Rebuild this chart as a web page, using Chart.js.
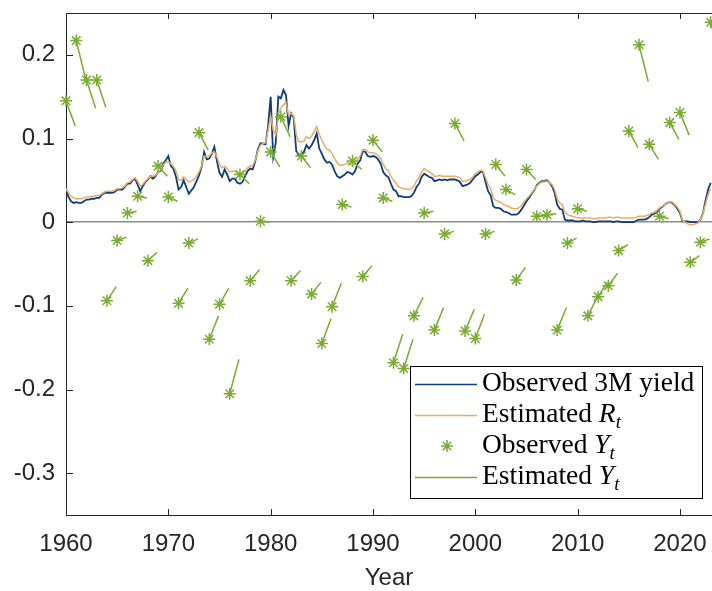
<!DOCTYPE html>
<html>
<head>
<meta charset="utf-8">
<script src="https://cdn.jsdelivr.net/npm/chart.js@4.4.1/dist/chart.umd.min.js"></script>
<style>
html, body { margin: 0; padding: 0; background: #fff; }
#wrap { width: 712px; height: 591px; }
</style>
</head>
<body>
<div id="wrap"><canvas id="c" width="712" height="591"></canvas></div>
<script>
// quarterly series start at 1960 Q1
var quarterStart = 1960;

var yield3m = [
	.039,.030,.025,.023, .024,.023,.023,.025, .027,.027,.028,.028, .029,.029,.033,.035,
	.035,.035,.035,.036, .039,.039,.039,.042, .046,.046,.050,.052, .045,.037,.043,.048,
	.051,.055,.052,.055, .060,.061,.070,.074, .079,.067,.064,.054, .039,.042,.050,.042,
	.034,.038,.042,.049, .056,.066,.084,.075, .076,.082,.090,.073, .059,.054,.063,.057,
	.049,.052,.052,.047, .046,.048,.055,.061, .064,.063,.073,.087, .094,.094,.093,.115,
	.150,.078,.095,.150, .148,.158,.152,.115, .130,.125,.085,.080, .081,.084,.092,.088,
	.092,.098,.106,.088, .082,.075,.071,.072, .069,.061,.055,.053, .055,.057,.060,.059,
	.057,.061,.070,.074, .085,.084,.079,.078, .079,.078,.075,.070, .060,.056,.054,.046,
	.039,.037,.031,.031, .030,.030,.030,.031, .035,.042,.046,.054, .058,.056,.054,.053,
	.049,.050,.051,.050, .051,.050,.051,.051, .051,.050,.048,.043, .044,.045,.047,.051,
	.055,.057,.060,.060, .048,.037,.032,.019, .017,.017,.016,.013, .012,.011,.009,.009,
	.009,.011,.015,.020, .025,.029,.034,.038, .044,.047,.049,.049, .050,.047,.043,.035,
	.021,.016,.015,.003, .002,.002,.002,.001, .001,.001,.002,.001, .001,.001,.000,.000,
	.001,.001,.001,.001, .001,.001,.000,.001, .001,.000,.000,.000, .000,.000,.000,.002,
	.003,.003,.003,.004, .006,.009,.010,.012, .016,.018,.021,.023, .024,.023,.020,.016,
	.011,.001,.001,.001, .000,.000,.000,.000, .003,.011,.026,.039, .047
];

var estR = [
	.040,.035,.031,.029, .028,.028,.028,.029, .030,.030,.031,.031, .032,.032,.034,.036,
	.037,.037,.037,.038, .040,.040,.041,.043, .047,.048,.051,.053, .049,.043,.045,.049,
	.052,.055,.055,.056, .060,.062,.068,.072, .072,.070,.067,.061, .051,.050,.054,.051,
	.048,.049,.051,.055, .060,.067,.079,.078, .079,.083,.084,.078, .069,.065,.067,.064,
	.060,.061,.061,.058, .057,.058,.061,.065, .067,.068,.074,.085, .092,.094,.095,.110,
	.127,.110,.104,.128, .137,.140,.143,.128, .130,.127,.105,.096, .096,.097,.102,.100,
	.103,.108,.114,.105, .098,.092,.087,.086, .082,.076,.071,.068, .068,.069,.071,.070,
	.068,.070,.076,.079, .087,.087,.084,.083, .083,.082,.080,.076, .069,.064,.061,.055,
	.050,.047,.042,.041, .040,.040,.039,.040, .043,.049,.053,.060, .064,.062,.060,.058,
	.055,.055,.056,.055, .055,.055,.055,.055, .055,.054,.053,.049, .049,.050,.051,.054,
	.058,.060,.062,.061, .053,.045,.040,.029, .026,.025,.024,.021, .020,.019,.017,.016,
	.016,.017,.020,.024, .028,.031,.035,.039, .043,.046,.048,.048, .049,.047,.045,.039,
	.028,.023,.021,.012, .009,.008,.007,.006, .005,.005,.005,.005, .005,.005,.004,.004,
	.005,.005,.005,.005, .006,.006,.005,.006, .006,.005,.005,.005, .005,.005,.005,.006,
	.007,.007,.007,.008, .009,.011,.012,.014, .017,.019,.021,.023, .024,.024,.021,.018,
	.013,.002,.000,-.002, -.003,-.003,-.002,-.001, .003,.010,.022,.033, .040
];

var years = [1960,1961,1962,1963,1964,1965,1966,1967,1968,1969,
	1970,1971,1972,1973,1974,1975,1976,1977,1978,1979,
	1980,1981,1982,1983,1984,1985,1986,1987,1988,1989,
	1990,1991,1992,1993,1994,1995,1996,1997,1998,1999,
	2000,2001,2002,2003,2004,2005,2006,2007,2008,2009,
	2010,2011,2012,2013,2014,2015,2016,2017,2018,2019,
	2020,2021,2022,2023];

var obsY = [
	.145,.217,.170,.170,-.094,-.022,.011,.031,-.046,.067,
	.030,-.097,-.025,.107,-.140,-.098,-.205,.057,-.070,.001,
	.084,.126,-.070,.079,-.086,-.145,-.101,.021,.073,-.065,
	.098,.029,-.168,-.175,-.112,.011,-.129,-.014,.118,-.130,
	-.139,-.014,.069,.039,-.069,.063,.007,.009,-.129,-.025,
	.016,-.112,-.089,-.076,-.034,.109,.212,.093,.007,.119,
	.131,-.048,-.024,.239
];

// end value of each year's estimated segment
var estYEnd = [
	.115,.172,.136,.137,-.077,-.018,.013,.029,-.036,.055,
	.025,-.079,-.020,.086,-.112,-.079,-.164,.046,-.057,.000,
	.066,.102,-.058,.065,-.072,-.115,-.073,.018,.063,-.052,
	.084,.025,-.134,-.140,-.090,.013,-.102,-.011,.097,-.104,
	-.110,-.011,.055,.033,-.054,.051,.008,.010,-.102,-.019,
	.013,-.090,-.072,-.061,-.027,.089,.168,.075,.004,.099,
	.104,-.040,-.020,.200
];

var xTicks = [1960, 1970, 1980, 1990, 2000, 2010, 2020];
var yTicks = [-0.3, -0.2, -0.1, 0, 0.1, 0.2];

var BLUE = '#0f3d7c', ORANGE = '#e6ad67', GREEN = '#77ac30', AXIS = '#262626';

function quarterly(arr) {
	return arr.map(function (v, i) { return { x: quarterStart + i / 4, y: v }; });
}

var segPts = [];
years.forEach(function (yr, i) {
	segPts.push({ x: yr, y: obsY[i] }, { x: yr + 0.9, y: estYEnd[i] }, { x: yr + 0.9, y: null });
});
var obsPts = years.map(function (yr, i) { return { x: yr, y: obsY[i] }; });

function labelRuns(label) {
	var m = /^(.*\s)(\w)_(\w)$/.exec(label);
	if (!m) return [{ t: label, k: 'n' }];
	return [{ t: m[1], k: 'n' }, { t: m[2], k: 'i' }, { t: m[3], k: 's' }];
}

var frame = {
	id: 'frame',
	afterDraw: function (chart) {
		var ctx = chart.ctx, a = chart.chartArea, xs = chart.scales.x, ys = chart.scales.y;
		ctx.save();
		ctx.strokeStyle = AXIS;
		ctx.lineWidth = 1;
		ctx.beginPath();
		ctx.moveTo(a.left, a.top + 0.5);
		ctx.lineTo(a.right, a.top + 0.5);
		xs.ticks.forEach(function (t) {
			var px = Math.round(xs.getPixelForValue(t.value)) + 0.5;
			ctx.moveTo(px, a.bottom); ctx.lineTo(px, a.bottom - 6);
			ctx.moveTo(px, a.top); ctx.lineTo(px, a.top + 6);
		});
		ys.ticks.forEach(function (t) {
			var py = Math.round(ys.getPixelForValue(t.value)) + 0.5;
			ctx.moveTo(a.left, py); ctx.lineTo(a.left + 7, py);
		});
		ctx.stroke();

		// legend box
		var w = 292, h = 132;
		var bx = a.right - 10 - w, by = a.bottom - 17 - h;
		ctx.fillStyle = '#fff';
		ctx.fillRect(bx, by, w, h);
		ctx.strokeStyle = '#000';
		ctx.strokeRect(bx + 0.5, by + 0.5, w, h);
		var rows = [18, 49, 80, 111];
		var order = [3, 2, 0, 1];
		order.forEach(function (di, r) {
			var ds = chart.data.datasets[di];
			var ry = by + rows[r];
			if (ds.showLine === false) {
				var cx = bx + 37, R = 6;
				ctx.strokeStyle = ds.pointBorderColor;
				ctx.lineWidth = 1.5;
				ctx.beginPath();
				for (var k = 0; k < 4; k++) {
					var ang = k * Math.PI / 4;
					ctx.moveTo(cx - R * Math.cos(ang), ry - R * Math.sin(ang));
					ctx.lineTo(cx + R * Math.cos(ang), ry + R * Math.sin(ang));
				}
				ctx.stroke();
			} else {
				ctx.strokeStyle = ds.borderColor;
				ctx.lineWidth = 1.5;
				ctx.beginPath();
				ctx.moveTo(bx + 5, ry + 0.5);
				ctx.lineTo(bx + 67, ry + 0.5);
				ctx.stroke();
			}
			var tx = bx + 72, base = ry + 7;
			ctx.fillStyle = '#000';
			ctx.textBaseline = 'alphabetic';
			ctx.textAlign = 'left';
			labelRuns(ds.label).forEach(function (run) {
				if (run.k === 'n') ctx.font = '27.5px "Liberation Serif"';
				else if (run.k === 'i') ctx.font = 'italic 27.5px "Liberation Serif"';
				else ctx.font = 'italic 19px "Liberation Serif"';
				ctx.fillText(run.t, tx, run.k === 's' ? base + 6 : base);
				tx += ctx.measureText(run.t).width;
			});
		});
		ctx.restore();
	}
};

new Chart(document.getElementById('c'), {
	type: 'line',
	data: {
		datasets: [
			{
				label: 'Observed Y_t',
				data: obsPts,
				showLine: false,
				pointStyle: 'star',
				pointRadius: 6,
				pointBorderWidth: 1.5,
				pointBorderColor: GREEN,
				pointBackgroundColor: GREEN,
				clip: false,
				order: 0
			},
			{
				label: 'Estimated Y_t',
				data: segPts,
				borderColor: GREEN,
				borderWidth: 1.5,
				pointRadius: 0,
				spanGaps: false,
				order: 1
			},
			{
				label: 'Estimated R_t',
				data: quarterly(estR),
				borderColor: ORANGE,
				borderWidth: 1.5,
				pointRadius: 0,
				order: 2
			},
			{
				label: 'Observed 3M yield',
				data: quarterly(yield3m),
				borderColor: BLUE,
				borderWidth: 1.8,
				pointRadius: 0,
				order: 3
			}
		]
	},
	options: {
		responsive: false,
		animation: false,
		devicePixelRatio: 1,
		layout: { autoPadding: false, padding: { top: 13, left: 0, right: 0, bottom: 0 } },
		elements: { line: { tension: 0 } },
		plugins: { legend: { display: false }, tooltip: { enabled: false } },
		scales: {
			x: {
				type: 'linear',
				min: 1960,
				max: 2023.13,
				afterBuildTicks: function (s) { s.ticks = xTicks.map(function (v) { return { value: v }; }); },
				afterFit: function (s) { s.height = 76; s.paddingLeft = 0; s.paddingRight = 0; },
				grid: { drawOnChartArea: false, drawTicks: false },
				border: { display: true, color: AXIS, width: 1 },
				ticks: {
					autoSkip: false, maxRotation: 0, padding: 15, color: AXIS,
					font: { family: 'Liberation Sans', size: 24 },
					callback: function (v) { return String(v); }
				},
				title: {
					display: true, text: 'Year', color: AXIS,
					font: { family: 'Liberation Sans', size: 24, lineHeight: 1 },
					padding: { top: 0, bottom: 1 }
				}
			},
			y: {
				min: -0.35,
				max: 0.25,
				afterBuildTicks: function (s) { s.ticks = yTicks.map(function (v) { return { value: v }; }); },
				afterFit: function (s) { s.width = 66; s.paddingTop = 0; s.paddingBottom = 0; },
				grid: {
					drawTicks: false,
					color: function (c) { return c.tick && c.tick.value === 0 ? '#8c8c8c' : 'rgba(0,0,0,0)'; },
					lineWidth: function (c) { return c.tick && c.tick.value === 0 ? 1.5 : 0; }
				},
				border: { display: true, color: AXIS, width: 1 },
				ticks: {
					padding: 11, color: AXIS,
					font: { family: 'Liberation Sans', size: 24 },
					callback: function (v) { return String(v); }
				}
			}
		}
	},
	plugins: [frame]
});
</script>
</body>
</html>
